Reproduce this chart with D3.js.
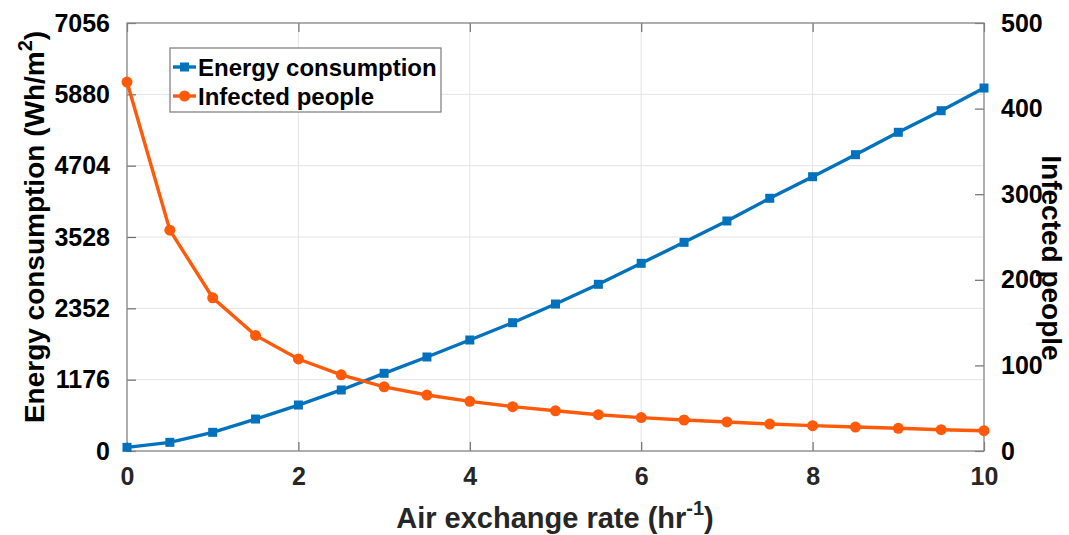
<!DOCTYPE html>
<html>
<head>
<meta charset="utf-8">
<script src="https://cdn.jsdelivr.net/npm/d3@7"></script>
<style>
  html, body { margin: 0; padding: 0; background: #fff; }
  svg { display: block; font-family: "Liberation Sans", Arial, sans-serif; }
</style>
</head>
<body>
<svg id="chart" width="1069" height="535"></svg>
<script>
// Data
const airRates = [0, 0.5, 1, 1.5, 2, 2.5, 3, 3.5, 4, 4.5, 5, 5.5, 6, 6.5, 7, 7.5, 8, 8.5, 9, 9.5, 10];
const energy = [60, 143, 308, 527, 758, 1006, 1281, 1550, 1830, 2115, 2423, 2748, 3094, 3440, 3792, 4166, 4522, 4885, 5254, 5610, 5984];
const infected = [431, 258, 179, 135, 107.5, 89, 75, 65.4, 58, 51.8, 47, 42.4, 39, 36.2, 33.9, 31.5, 29.6, 28, 26.5, 24.9, 23.7];
const xTicks = [0, 2, 4, 6, 8, 10];
const leftTicks = [0, 1176, 2352, 3528, 4704, 5880, 7056];
const rightTicks = [0, 100, 200, 300, 400, 500];

const BLUE = '#0072bd',
      ORANGE = '#ff5a0a';

const margin = { top: 23, left: 127 };
const innerW = 984 - margin.left,
      innerH = 451 - margin.top;

const svg = d3.select('#chart');
const g = svg.append('g').attr('transform', `translate(${margin.left},${margin.top})`);

const x = d3.scaleLinear().domain([0, 10]).range([0, innerW]);
const yLeft = d3.scaleLinear().domain([0, 7056]).range([innerH, 0]);
const yRight = d3.scaleLinear().domain([0, 500]).range([innerH, 0]);

/*
 * Grid
 */
g.append('g').attr('class', 'grid')
  .selectAll('line.v').data(xTicks).enter().append('line')
    .attr('x1', d => x(d)).attr('x2', d => x(d))
    .attr('y1', 0).attr('y2', innerH)
    .attr('stroke', '#e3e3e3').attr('stroke-width', 1);

g.append('g').attr('class', 'grid')
  .selectAll('line.h').data(leftTicks).enter().append('line')
    .attr('y1', d => yLeft(d)).attr('y2', d => yLeft(d))
    .attr('x1', 0).attr('x2', innerW)
    .attr('stroke', '#e3e3e3').attr('stroke-width', 1);

/*
 * Axes (ticks point inward, MATLAB style)
 */
const plain = d3.format('d');

function styleAxis(sel, color) {
  sel.select('.domain').remove();
  sel.selectAll('.tick line').attr('stroke', '#6e6e6e').attr('stroke-width', 1.2);
  sel.selectAll('.tick text')
    .attr('fill', color)
    .style('font-size', '25px')
    .style('font-weight', 'bold');
}

g.append('g')
  .attr('transform', `translate(0,${innerH})`)
  .call(d3.axisBottom(x).tickValues(xTicks).tickFormat(plain).tickSizeInner(-9).tickSizeOuter(0).tickPadding(16))
  .call(a => styleAxis(a, '#262626'));

g.append('g')
  .call(d3.axisTop(x).tickValues(xTicks).tickSizeInner(-9).tickSizeOuter(0).tickFormat(''))
  .call(a => styleAxis(a, '#262626'));

g.append('g')
  .call(d3.axisLeft(yLeft).tickValues(leftTicks).tickFormat(plain).tickSizeInner(-9).tickSizeOuter(0).tickPadding(17))
  .call(a => styleAxis(a, '#000'));

g.append('g')
  .attr('transform', `translate(${innerW},0)`)
  .call(d3.axisRight(yRight).tickValues(rightTicks).tickFormat(plain).tickSizeInner(-9).tickSizeOuter(0).tickPadding(17))
  .call(a => styleAxis(a, '#000'));

// Box
g.append('rect')
  .attr('width', innerW).attr('height', innerH)
  .attr('fill', 'none').attr('stroke', '#8a8a8a').attr('stroke-width', 1.3);

/*
 * Series
 */
const energyLine = d3.line().x((d, i) => x(airRates[i])).y(d => yLeft(d));
const infectedLine = d3.line().x((d, i) => x(airRates[i])).y(d => yRight(d));

g.append('path').datum(energy)
  .attr('d', energyLine)
  .attr('fill', 'none').attr('stroke', BLUE).attr('stroke-width', 3.4);

g.selectAll('rect.energy').data(energy).enter().append('rect')
  .attr('class', 'energy')
  .attr('x', (d, i) => x(airRates[i]) - 4.5)
  .attr('y', d => yLeft(d) - 4.5)
  .attr('width', 9).attr('height', 9)
  .attr('fill', BLUE);

g.append('path').datum(infected)
  .attr('d', infectedLine)
  .attr('fill', 'none').attr('stroke', ORANGE).attr('stroke-width', 3.4);

g.selectAll('circle.infected').data(infected).enter().append('circle')
  .attr('class', 'infected')
  .attr('cx', (d, i) => x(airRates[i]))
  .attr('cy', d => yRight(d))
  .attr('r', 5.5)
  .attr('fill', ORANGE);

/*
 * Axis titles
 */
const leftTitle = svg.append('text')
  .attr('transform', 'translate(44,227) rotate(-90)')
  .attr('text-anchor', 'middle')
  .style('font-size', '28px').style('font-weight', 'bold')
  .attr('fill', '#000');
leftTitle.append('tspan').text('Energy consumption (Wh/m');
leftTitle.append('tspan').attr('dy', -12).style('font-size', '20px').text('2');
leftTitle.append('tspan').attr('dy', 12).text(')');

svg.append('text')
  .attr('transform', 'translate(1042,258) rotate(90)')
  .attr('text-anchor', 'middle')
  .style('font-size', '28px').style('font-weight', 'bold')
  .attr('fill', '#000')
  .text('Infected people');

const bottomTitle = svg.append('text')
  .attr('x', 555).attr('y', 528)
  .attr('text-anchor', 'middle')
  .style('font-size', '29px').style('font-weight', 'bold')
  .attr('fill', '#262626');
bottomTitle.append('tspan').text('Air exchange rate (hr');
bottomTitle.append('tspan').attr('dy', -13).style('font-size', '20px').text('-1');
bottomTitle.append('tspan').attr('dy', 13).text(')');

/*
 * Legend
 */
const legend = svg.append('g').attr('transform', 'translate(170,48)');
legend.append('rect')
  .attr('width', 271).attr('height', 64)
  .attr('fill', '#fff').attr('stroke', '#7a7a7a').attr('stroke-width', 1.2);

const items = [
  { label: 'Energy consumption', color: BLUE, marker: 'square' },
  { label: 'Infected people', color: ORANGE, marker: 'circle' }
];

const rows = legend.selectAll('g.item').data(items).enter().append('g')
  .attr('class', 'item')
  .attr('transform', (d, i) => `translate(0,${19 + i * 29})`);

rows.append('line')
  .attr('x1', 3).attr('x2', 26)
  .attr('stroke', d => d.color).attr('stroke-width', 3.4);

rows.filter(d => d.marker === 'square').append('rect')
  .attr('x', 10).attr('y', -4.5).attr('width', 9).attr('height', 9)
  .attr('fill', d => d.color);

rows.filter(d => d.marker === 'circle').append('circle')
  .attr('cx', 14.5).attr('r', 5.5)
  .attr('fill', d => d.color);

rows.append('text')
  .attr('x', 28).attr('dy', '0.36em')
  .style('font-size', '24px').style('font-weight', 'bold')
  .attr('fill', '#000')
  .text(d => d.label);
</script>
</body>
</html>
